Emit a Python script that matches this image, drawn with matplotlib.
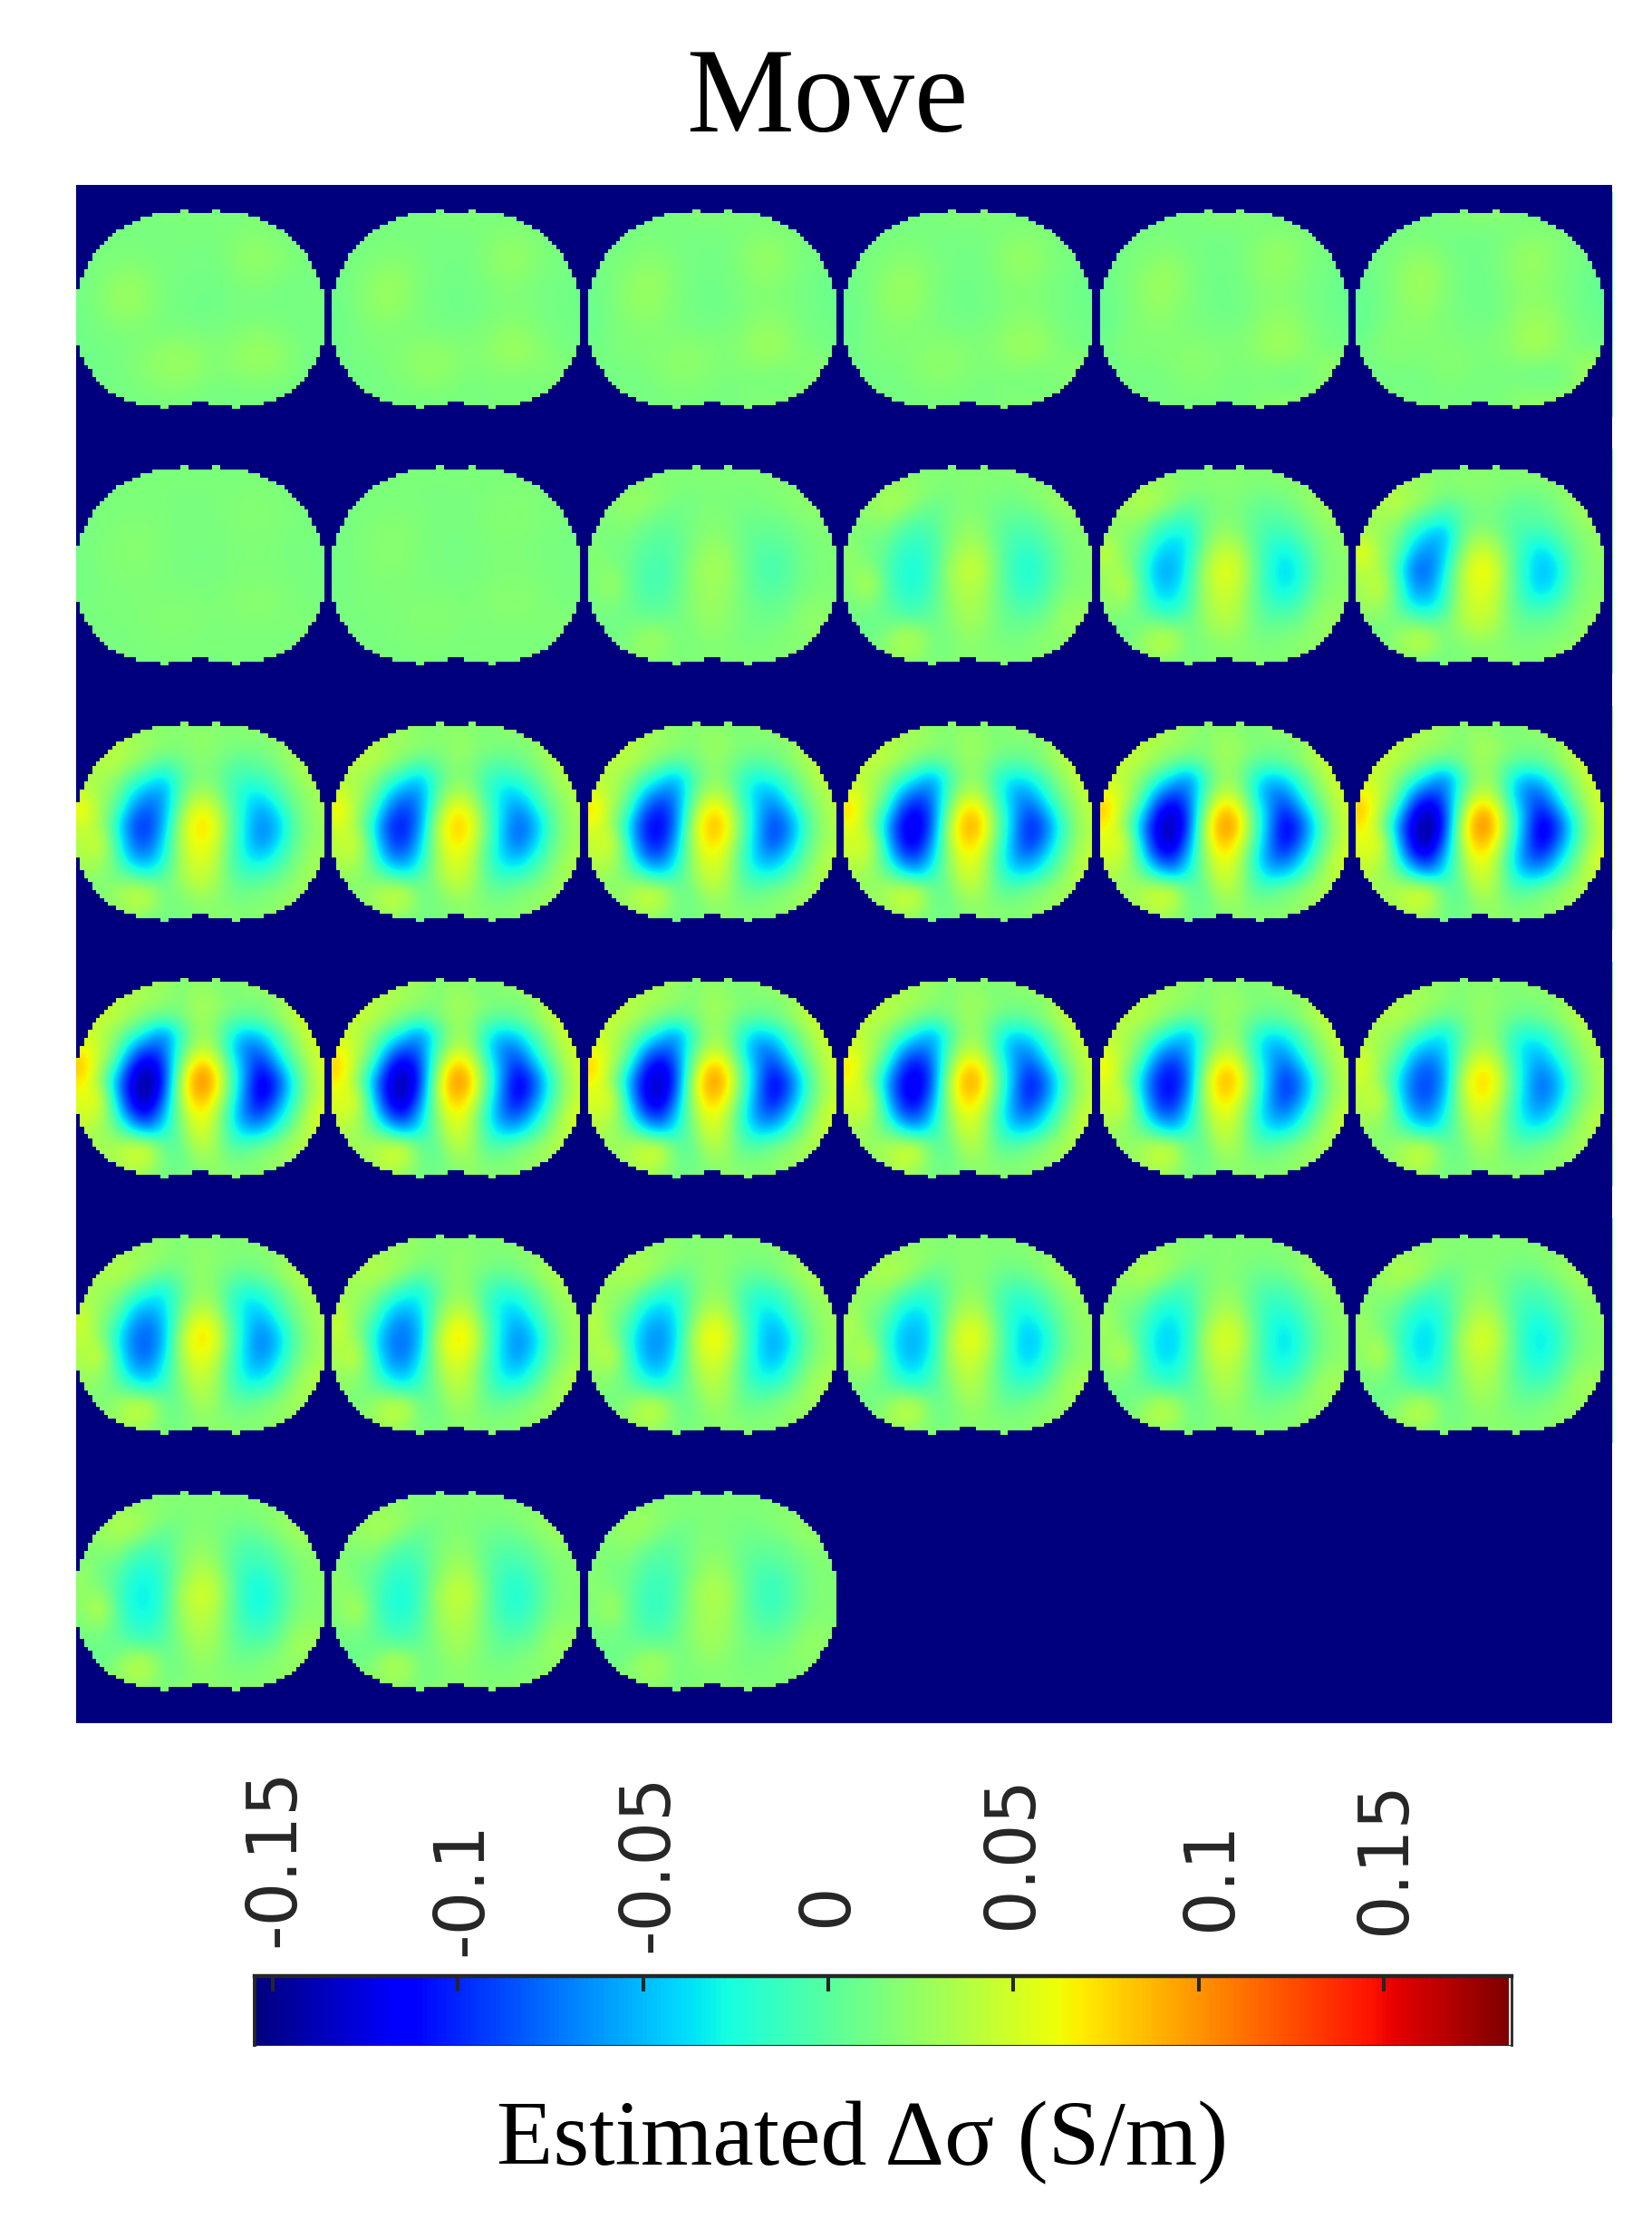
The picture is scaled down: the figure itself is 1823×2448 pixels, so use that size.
import numpy as np
import matplotlib
matplotlib.use("Agg")
import matplotlib.pyplot as plt

W, H = 1823, 2448

# values in S/m, every 4 cells (columns 2..62, rows 4..56)
early_a = [
    [.013, .013, .013, .013, .013, .014, .014, .014, .014, .014, .014, .014, .013, .013, .013, .013],
    [.014, .014, .014, .014, .014, .015, .015, .015, .015, .015, .015, .015, .014, .014, .014, .014],
    [.014, .014, .014, .014, .014, .014, .014, .014, .014, .015, .018, .018, .016, .014, .014, .014],
    [.014, .014, .014, .014, .014, .014, .013, .013, .013, .016, .021, .022, .019, .015, .014, .014],
    [.014, .014, .017, .018, .016, .014, .013, .012, .012, .016, .022, .023, .020, .015, .014, .014],
    [.012, .016, .022, .025, .020, .014, .012, .011, .011, .013, .017, .018, .015, .013, .012, .012],
    [.012, .018, .025, .027, .021, .014, .012, .010, .010, .012, .014, .014, .013, .012, .012, .012],
    [.010, .016, .022, .024, .019, .014, .012, .010, .010, .012, .013, .013, .013, .012, .012, .012],
    [.010, .013, .016, .017, .015, .014, .014, .013, .013, .014, .017, .018, .016, .013, .012, .012],
    [.010, .012, .013, .015, .018, .021, .022, .020, .016, .018, .023, .025, .022, .017, .012, .012],
    [.010, .011, .013, .016, .021, .025, .026, .024, .018, .020, .024, .027, .024, .017, .012, .012],
    [.009, .010, .012, .015, .019, .023, .024, .021, .015, .016, .019, .020, .018, .015, .012, .012],
    [.012, .012, .012, .013, .015, .017, .017, .015, .013, .013, .013, .013, .013, .012, .012, .012],
    [.012, .012, .012, .012, .012, .012, .012, .012, .012, .012, .012, .012, .012, .012, .012, .012],
]
early_b = [
    [.014, .014, .014, .014, .014, .014, .018, .020, .020, .018, .014, .014, .014, .014, .014, .014],
    [.014, .014, .014, .014, .014, .014, .018, .020, .020, .018, .014, .014, .016, .016, .014, .014],
    [.012, .012, .013, .014, .014, .013, .012, .012, .012, .014, .017, .018, .017, .014, .012, .012],
    [.012, .012, .014, .018, .018, .013, .010, .010, .012, .018, .024, .024, .018, .013, .012, .012],
    [.010, .012, .018, .024, .026, .018, .011, .010, .011, .019, .025, .025, .018, .013, .010, .006],
    [.008, .012, .019, .027, .028, .019, .011, .009, .011, .018, .023, .022, .017, .012, .008, .002],
    [.006, .011, .018, .026, .026, .018, .011, .009, .011, .016, .021, .022, .017, .012, .007, .002],
    [.005, .012, .017, .022, .022, .016, .012, .010, .010, .016, .024, .026, .020, .012, .009, .005],
    [.005, .014, .018, .020, .019, .016, .014, .012, .014, .020, .028, .030, .024, .015, .011, .008],
    [.010, .018, .019, .018, .018, .018, .016, .015, .016, .021, .030, .032, .024, .015, .012, .010],
    [.012, .015, .016, .015, .016, .019, .018, .015, .015, .017, .020, .019, .016, .020, .028, .020],
    [.012, .012, .012, .012, .014, .017, .016, .013, .013, .013, .011, .008, .009, .018, .030, .020],
    [.012, .012, .012, .012, .012, .014, .014, .014, .014, .016, .018, .016, .020, .022, .020, .020],
    [.014, .014, .014, .014, .014, .014, .014, .014, .014, .016, .026, .028, .020, .020, .020, .020],
]
onset_map = [
    [.020, .020, .020, .020, .020, .020, .020, .020, .020, .020, .020, .020, .020, .020, .020, .020],
    [.025, .025, .030, .025, .020, .015, .020, .020, .020, .015, .020, .020, .020, .025, .025, .025],
    [.030, .035, .035, .030, .025, .020, .020, .020, .020, .015, .015, .015, .020, .025, .025, .025],
    [.030, .035, .040, .030, .015, .000, .005, .015, .015, .005, .000, .005, .015, .025, .030, .030],
    [.025, .030, .025, .000, -.015, -.030, .000, .012, .012, .000, .000, .000, .005, .020, .030, .030],
    [.040, .025, .012, -.025, -.050, -.055, .002, .030, .025, .002, -.015, -.020, -.005, .012, .020, .025],
    [.060, .028, .005, -.050, -.070, -.045, .016, .052, .045, .010, -.020, -.045, -.025, .005, .020, .025],
    [.040, .035, -.010, -.075, -.080, -.035, .034, .064, .060, .014, -.025, -.050, -.040, .002, .018, .020],
    [.030, .050, .000, -.060, -.070, -.020, .034, .060, .054, .014, -.022, -.050, -.030, .005, .020, .020],
    [.030, .035, .005, -.045, -.045, -.020, .036, .052, .048, .012, -.015, -.025, -.012, .010, .022, .020],
    [.020, .020, .010, .000, -.015, .005, .035, .047, .042, .014, .000, .000, .005, .018, .025, .025],
    [.010, .010, .022, .036, .035, .012, .025, .035, .030, .015, .010, .012, .015, .020, .025, .025],
    [.015, .015, .022, .036, .034, .012, .015, .018, .018, .018, .015, .018, .022, .025, .025, .025],
    [.015, .015, .015, .010, .005, .012, .018, .020, .022, .020, .018, .018, .022, .025, .025, .025],
]
peak_map = [
    [.030, .030, .030, .030, .030, .030, .025, .020, .025, .025, .015, .020, .020, .020, .030, .030],
    [.030, .030, .030, .035, .030, .025, .015, .025, .020, .010, .020, .025, .030, .030, .030, .030],
    [.040, .040, .040, .035, .030, .025, .015, .030, .030, .020, .015, .015, .020, .040, .040, .040],
    [.045, .045, .040, .025, .010, .000, .010, .030, .025, .005, .000, .005, .020, .040, .050, .050],
    [.050, .040, .020, -.010, -.040, -.070, -.020, .025, .025, -.020, -.050, -.040, -.010, .020, .050, .050],
    [.065, .045, .010, -.060, -.095, -.080, -.008, .042, .040, -.020, -.075, -.080, -.030, .010, .040, .055],
    [.085, .035, -.020, -.105, -.140, -.095, .012, .090, .078, .002, -.060, -.110, -.065, -.010, .030, .055],
    [.070, .025, -.055, -.130, -.152, -.105, .040, .105, .098, .012, -.060, -.132, -.100, -.030, .025, .050],
    [.055, .060, -.040, -.125, -.150, -.080, .034, .092, .075, .004, -.070, -.128, -.085, -.020, .025, .050],
    [.050, .045, -.015, -.095, -.115, -.050, .020, .068, .052, -.015, -.075, -.095, -.050, -.005, .040, .060],
    [.040, .030, .010, -.030, -.060, -.030, .012, .054, .042, -.010, -.050, -.050, -.020, .015, .045, .045],
    [.030, .030, .035, .050, .050, .005, .000, .040, .035, .000, -.005, .010, .020, .035, .035, .035],
    [.030, .030, .030, .045, .040, .010, .005, .020, .025, .015, .015, .020, .025, .030, .030, .030],
    [.030, .030, .030, .030, .020, .012, .010, .020, .025, .020, .020, .020, .025, .030, .030, .030],
]
late_map = [
    [.018, .018, .018, .018, .018, .018, .018, .018, .018, .018, .018, .018, .018, .018, .018, .018],
    [.020, .020, .020, .022, .020, .018, .018, .018, .018, .018, .018, .020, .020, .020, .020, .020],
    [.025, .025, .030, .030, .025, .020, .015, .018, .018, .015, .015, .018, .022, .025, .025, .025],
    [.025, .025, .035, .035, .020, .005, .010, .020, .015, .010, .005, .010, .020, .030, .030, .030],
    [.020, .020, .025, .008, -.006, -.004, .015, .022, .022, .005, -.004, -.004, .004, .020, .025, .020],
    [.020, .012, .008, -.014, -.020, -.010, .014, .030, .028, .004, -.012, -.012, -.002, .012, .020, .020],
    [.025, .010, .000, -.024, -.030, -.014, .018, .042, .040, .010, -.018, -.026, -.012, .008, .020, .020],
    [.022, .025, -.004, -.030, -.034, -.015, .030, .050, .048, .014, -.020, -.032, -.016, .008, .018, .020],
    [.020, .045, .002, -.028, -.032, -.012, .026, .044, .040, .012, -.018, -.028, -.014, .010, .020, .020],
    [.015, .020, .003, -.018, -.022, -.006, .022, .038, .034, .010, -.010, -.018, -.004, .018, .025, .020],
    [.012, .010, .005, -.002, -.008, .000, .016, .032, .030, .012, -.002, -.002, .005, .028, .030, .030],
    [.005, .005, .014, .035, .034, .010, .012, .026, .024, .012, .008, .012, .020, .025, .025, .025],
    [.015, .015, .022, .036, .034, .012, .012, .020, .020, .018, .015, .018, .020, .022, .022, .022],
    [.015, .015, .020, .020, .018, .015, .020, .022, .020, .020, .018, .018, .020, .020, .020, .020],
]
flat_level = 0.015

# how much of each read-off map every frame shows, judged frame by frame
share_a = [1, .7, .5, .5, .3, 0, .25, .25, .2, .15, 0, 0] + [0] * 18 + [0, .15, .35]
share_b = [0, .3, .5, .5, .7, 1, .15, .2, .1, 0, 0, 0] + [0] * 18 + [0, 0, 0]
share_flat = [0, 0, 0, 0, 0, 0, .6, .55, .2, 0, 0, 0] + [0] * 21
share_onset = [0] * 10 + [.5, 1, .75, .6, .45, .3, .1, 0] + [0] * 15
share_peak = [0] * 12 + [.25, .4, .55, .7, .9, 1, 1, .95, .9, .8, .7, .5, .42, .38, .28, .18, .08, .05, 0, 0, 0]
share_late = [0, 0, 0, 0, 0, 0, 0, 0, .5, .85, .5, 0, 0, 0, 0, 0, 0, 0, 0, .05, .1, .2, .3, .5, .58, .62, .72, .82, .92, .95, 1, .85, .65]

# first and last+1 column of the body on each row of a frame, rows 7..54
body_start = [19, 16, 14, 12, 10, 9, 8, 7, 6, 5, 4, 4, 3, 3, 2, 2, 1, 1, 1] + [0] * 14 + [1, 1, 1, 2, 2, 3, 4, 4, 5, 6, 7, 8, 10, 12, 15]
body_stop = [43, 46, 48, 50, 52, 53, 54, 55, 56, 57, 58, 58, 59, 59, 60, 60, 61, 61, 61] + [62] * 14 + [61, 61, 61, 60, 60, 59, 58, 58, 57, 56, 55, 54, 52, 50, 47]

tick_values = [-0.15, -0.1, -0.05, 0, 0.05, 0.1, 0.15]
tick_labels = ["-0.15", "-0.1", "-0.05", "0", "0.05", "0.1", "0.15"]
color_min, color_max = -0.1546, 0.1835

jet = plt.get_cmap("jet", 256)
serif = "Liberation Serif"


def box(x0, y0, x1, y1):
    return [x0 / W, 1 - y1 / H, (x1 - x0) / W, (y1 - y0) / H]


fig = plt.figure(figsize=(W / 100, H / 100), dpi=100)

ax = fig.add_axes(box(84, 204, 1779, 1901))

# outline of one frame, navy outside the body
outline = np.ones((64, 64), dtype=bool)
for i, (a, b) in enumerate(zip(body_start, body_stop)):
    outline[7 + i, a:b] = False
outline[6, 26:28] = False
outline[6, 34:36] = False
outline[54, 29:33] = True
outline[55, 21:23] = False
outline[55, 39:41] = False

# one cover for the whole montage, empty slots stay navy
cover_mask = np.ones((384, 384), dtype=bool)
for n in range(33):
    col, row = n % 6, n // 6
    values = (share_a[n] * np.array(early_a) + share_b[n] * np.array(early_b)
              + share_flat[n] * flat_level
              + share_onset[n] * np.array(onset_map) + share_peak[n] * np.array(peak_map)
              + share_late[n] * np.array(late_map))
    left, top = col * 64, row * 64
    ax.imshow(values, cmap=jet, vmin=color_min, vmax=color_max, interpolation="bicubic",
              interpolation_stage="data", extent=[left, left + 64, top + 58, top + 2], aspect="auto")
    cover_mask[top:top + 64, left:left + 64] = outline

cover = np.zeros((384, 384, 4))
cover[cover_mask] = jet(0)
ax.imshow(cover, interpolation="nearest", extent=[0, 384, 384, 0], aspect="auto")

ax.set_xlim(0, 384)
ax.set_ylim(384, 0)
ax.set_xticks([])
ax.set_yticks([])
for spine in ax.spines.values():
    spine.set_visible(False)

# colour bar, x limits set so the ticks land on their values
cb = fig.add_axes(box(281, 2180, 1668, 2256))
gradient = np.linspace(color_min, color_max, 256).reshape(1, -1)
cb.imshow(gradient, cmap=jet, vmin=color_min, vmax=color_max, aspect="auto",
          extent=[color_min, color_max, 0, 1], interpolation="nearest")
to_value = 0.05 / 204.4
cb.set_xlim((281 - 914) * to_value, (1668 - 914) * to_value)
cb.set_ylim(0, 1)
cb.set_yticks([])
cb.set_xticks(tick_values)
cb.set_xticklabels([])
cb.xaxis.set_ticks_position("top")
cb.tick_params(axis="x", direction="in", length=12, width=2.9, color="#262626")
for side, lw in [("top", 3.2), ("left", 2.8), ("right", 2.0), ("bottom", 0.8)]:
    cb.spines[side].set_linewidth(lw)
    cb.spines[side].set_color("#262626")

label_x = [303, 510, 715, 913, 1117, 1337, 1529]
label_bottom = [2148, 2158, 2154, 2125, 2128, 2130, 2134]
for text, x, y in zip(tick_labels, label_x, label_bottom):
    fig.text(x / W, 1 - y / H, text, rotation=90, ha="center", va="bottom",
             fontsize=55, color="#262626", family="DejaVu Sans")

fig.text(913 / W, 1 - 145 / H, "Move", ha="center", va="baseline", fontsize=96, family=serif, color="black")
fig.text(952 / W, 1 - 2388 / H, "Estimated \u0394\u03c3 (S/m)", ha="center", va="baseline",
         fontsize=73.5, family=serif, color="black")

fig.savefig("out.png", dpi=100)
